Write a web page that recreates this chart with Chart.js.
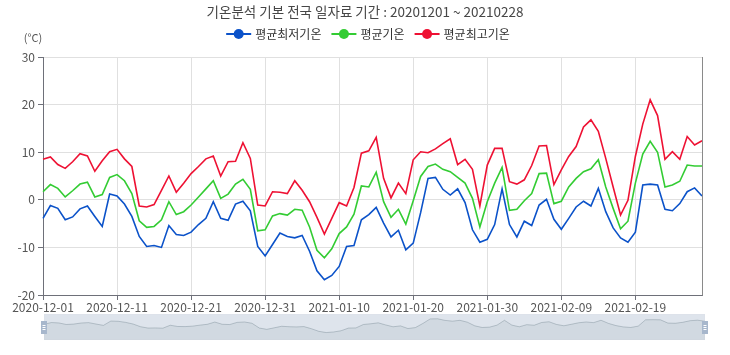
<!DOCTYPE html>
<html><head><meta charset="utf-8">
<script src="https://cdn.jsdelivr.net/npm/chart.js@4.4.1/dist/chart.umd.min.js"></script>
<style>html,body{margin:0;padding:0;background:#fff;overflow:hidden}</style>
</head><body>
<canvas id="c" width="730" height="355"></canvas>
<script>
const titleText = '기온분석 기본 전국 일자료 기간 : 20201201 ~ 20210228';
const unitLabel = '(°C)';
const seriesNames = ['평균최저기온', '평균기온', '평균최고기온'];
const seriesColors = ['#0b52c9', '#33cc33', '#ee1133'];

const dates = [];
(function () {
  const d = new Date(Date.UTC(2020, 11, 1));
  const end = Date.UTC(2021, 1, 28);
  while (d.getTime() <= end) { dates.push(d.toISOString().slice(0, 10)); d.setUTCDate(d.getUTCDate() + 1); }
})();

const minTemp = [-3.9,-1.2,-1.8,-4.2,-3.6,-1.9,-1.3,-3.5,-5.6,1.2,
  0.8,-0.9,-3.5,-7.7,-9.8,-9.6,-10.0,-5.4,-7.3,-7.5,
  -6.8,-5.2,-3.9,-0.4,-3.9,-4.3,-0.9,-0.3,-2.3,-9.8,
  -11.8,-9.4,-7.0,-7.7,-8.0,-7.5,-10.8,-14.9,-16.8,-15.9,
  -14.0,-9.8,-9.6,-4.2,-3.1,-1.6,-4.9,-7.8,-6.4,-10.5,
  -9.1,-2.7,4.5,4.7,2.2,1.0,2.3,-0.6,-6.3,-8.9,
  -8.3,-5.2,2.3,-5.2,-7.8,-4.5,-5.4,-1.1,0.1,-4.1,
  -6.2,-3.9,-1.5,-0.3,-1.3,2.4,-2.5,-5.9,-8.0,-8.9,
  -6.8,3.1,3.3,3.1,-2.0,-2.3,-0.8,1.7,2.5,0.8];
const avgTemp = [1.7,3.2,2.4,0.6,1.9,3.3,3.7,0.6,1.1,4.7,
  5.3,4.0,1.3,-4.4,-5.8,-5.6,-4.2,-0.4,-3.1,-2.5,
  -1.1,0.6,2.3,4.0,0.3,1.2,3.3,4.3,2.2,-6.5,
  -6.3,-3.4,-2.9,-3.2,-2.0,-2.2,-5.7,-10.6,-12.2,-10.3,
  -7.1,-5.7,-3.0,2.9,2.7,5.8,-0.4,-3.7,-2.0,-5.1,
  -0.2,4.9,7.0,7.5,6.4,5.9,4.7,3.5,0.3,-5.7,
  -0.4,3.5,6.8,-2.2,-2.0,-0.2,1.3,5.5,5.6,-0.8,
  -0.3,2.7,4.5,5.9,6.5,8.4,2.7,-1.8,-6.1,-4.5,
  3.5,9.6,12.3,10.0,2.7,3.1,3.9,7.3,7.1,7.1];
const maxTemp = [8.5,9.0,7.4,6.6,8.0,9.7,9.2,6.0,8.2,10.1,
  10.6,8.6,7.0,-1.3,-1.5,-1.0,2.0,5.0,1.6,3.5,
  5.5,7.0,8.6,9.2,5.0,8.0,8.1,12.0,8.7,-1.1,
  -1.3,1.7,1.6,1.3,4.0,2.0,-0.4,-3.7,-7.2,-3.9,
  -0.6,-1.3,2.6,9.8,10.3,13.1,4.5,0.4,3.5,1.3,
  8.4,10.1,9.9,10.7,11.8,12.8,7.4,8.5,6.4,-1.3,
  7.3,10.8,10.8,3.8,3.3,4.2,7.2,11.3,11.4,3.2,
  6.3,9.1,11.2,15.3,16.8,14.4,8.7,2.7,-3.2,-0.1,
  9.1,15.9,21.0,17.7,8.5,10.1,8.5,13.3,11.5,12.4];
const yMin = -20, yMax = 30, yStep = 10;
const labelEvery = 10;

const FONT = "'Noto Sans CJK KR','Noto Sans',sans-serif";
const AXIS = '#6e7079';
const GRID = '#e0e0e0';

const decor = {
  id: 'decor',
  afterDraw(chart) {
    const c = chart.ctx, ca = chart.chartArea, xs = chart.scales.x;
    c.save();
    // right frame line
    c.strokeStyle = '#8a8a8a'; c.lineWidth = 1;
    c.beginPath(); c.moveTo(Math.round(ca.right) + 0.5, ca.top); c.lineTo(Math.round(ca.right) + 0.5, ca.bottom + 0.5); c.stroke();
    // title
    c.fillStyle = '#464646'; c.textAlign = 'center'; c.textBaseline = 'middle';
    c.font = '13.5px ' + FONT;
    c.fillText(titleText, 365, 12);
    // unit
    c.font = '11px ' + FONT; c.fillStyle = '#555';
    c.fillText(unitLabel, 33, 38);
    // legend
    c.font = '12px ' + FONT;
    const iconW = 25, gapT = 4, gapI = 10;
    const widths = seriesNames.map(n => c.measureText(n).width);
    let total = widths.reduce((a, b) => a + b, 0) + seriesNames.length * (iconW + gapT) + gapI * (seriesNames.length - 1);
    let x = 368 - total / 2; const ly = 34;
    seriesNames.forEach((n, i) => {
      c.strokeStyle = seriesColors[i]; c.fillStyle = seriesColors[i]; c.lineWidth = 2;
      c.beginPath(); c.moveTo(x, ly); c.lineTo(x + iconW, ly); c.stroke();
      c.beginPath(); c.arc(x + iconW / 2, ly, 5, 0, Math.PI * 2); c.fill();
      c.fillStyle = '#333'; c.textAlign = 'left';
      c.fillText(n, x + iconW + gapT, ly + 0.5);
      x += iconW + gapT + widths[i] + gapI;
    });
    // data zoom slider
    const sx0 = ca.left + 1, sx1 = ca.right + 3, sy0 = 314, sy1 = 340;
    c.fillStyle = 'rgba(167,183,204,0.38)';
    c.fillRect(sx0, sy0, sx1 - sx0, sy1 - sy0);
    c.strokeStyle = '#dde2ea'; c.lineWidth = 1;
    c.strokeRect(sx0 + 0.5, sy0 + 0.5, sx1 - sx0 - 1, sy1 - sy0 - 1);
    const toSx = px => sx0 + (px - ca.left) / (ca.right - ca.left) * (sx1 - sx0);
    const toSy = v => 321.8 - 0.64 * v;
    c.beginPath();
    minTemp.forEach((v, i) => {
      const px = toSx(xs.getPixelForValue(i)), py = toSy(v);
      if (i === 0) c.moveTo(px, py); else c.lineTo(px, py);
    });
    c.strokeStyle = 'rgba(47,69,84,0.3)'; c.lineWidth = 0.8; c.stroke();
    c.lineTo(toSx(xs.getPixelForValue(minTemp.length - 1)), sy1);
    c.lineTo(toSx(xs.getPixelForValue(0)), sy1);
    c.closePath();
    c.fillStyle = 'rgba(47,69,84,0.07)'; c.fill();
    // handles
    [sx0, sx1].forEach(hx => {
      c.fillStyle = '#a7b7cc';
      c.fillRect(hx - 3, 321, 6, 13);
      c.strokeStyle = '#fff'; c.lineWidth = 1;
      c.beginPath();
      c.moveTo(hx - 1.5, 325.5); c.lineTo(hx + 1.5, 325.5);
      c.moveTo(hx - 1.5, 327.5); c.lineTo(hx + 1.5, 327.5);
      c.moveTo(hx - 1.5, 329.5); c.lineTo(hx + 1.5, 329.5);
      c.stroke();
    });
    c.restore();
  }
};

const mk = (i, data) => ({
  label: seriesNames[i], data, borderColor: seriesColors[i], backgroundColor: seriesColors[i],
  borderWidth: 1.6, pointRadius: 0, pointHoverRadius: 0, tension: 0, fill: false
});

new Chart(document.getElementById('c'), {
  type: 'line',
  data: { labels: dates, datasets: [mk(0, minTemp), mk(1, avgTemp), mk(2, maxTemp)] },
  options: {
    responsive: false, animation: false, devicePixelRatio: 1,
    layout: { padding: { top: 57, right: 28, bottom: 0, left: 0 } },
    plugins: { legend: { display: false }, title: { display: false }, tooltip: { enabled: false } },
    scales: {
      x: {
        type: 'category', offset: false,
        grid: {
          offset: false, tickLength: 5,
          color: ctx => (ctx.index % labelEvery === 0 ? GRID : 'rgba(0,0,0,0)'),
          tickColor: ctx => (ctx.index % labelEvery === 0 ? AXIS : 'rgba(0,0,0,0)')
        },
        border: { color: AXIS, width: 1 },
        ticks: {
          autoSkip: false, maxRotation: 0, minRotation: 0, padding: 0,
          color: '#555', font: { family: FONT, size: 12 },
          callback: (v, i) => (i % labelEvery === 0 ? dates[i] : '')
        },
        afterFit: s => { s.height = 60; }
      },
      y: {
        min: yMin, max: yMax,
        ticks: { stepSize: yStep, padding: 3, color: '#555', font: { family: FONT, size: 12 } },
        grid: { color: GRID, tickLength: 5, tickColor: AXIS },
        border: { color: AXIS, width: 1 },
        afterFit: s => { s.width = 43; }
      }
    }
  },
  plugins: [decor]
});
</script>
</body></html>
